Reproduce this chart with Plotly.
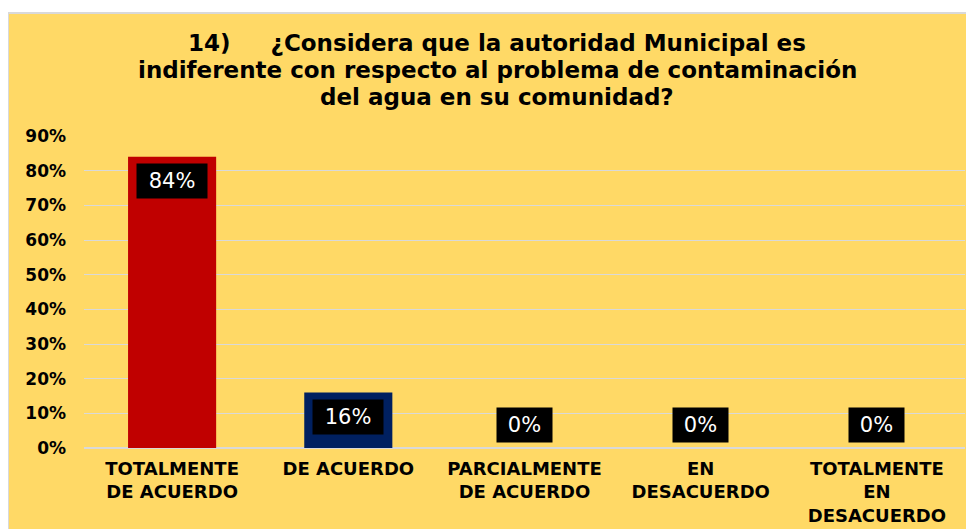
import plotly.graph_objects as go

categories = ["TOTALMENTE<br>DE ACUERDO", "DE ACUERDO", "PARCIALMENTE<br>DE ACUERDO",
              "EN<br>DESACUERDO", "TOTALMENTE<br>EN<br>DESACUERDO"]
values = [0.84, 0.16, 0.0, 0.0, 0.0]
labels = ["84%", "16%", "0%", "0%", "0%"]
bar_colors = ["#C00000", "#002060", "#002060", "#002060", "#002060"]
tick_vals = [0, 0.1, 0.2, 0.3, 0.4, 0.5, 0.6, 0.7, 0.8, 0.9]
tick_text = ["0%", "10%", "20%", "30%", "40%", "50%", "60%", "70%", "80%", "90%"]

title_lines = ["14)\u00a0\u00a0\u00a0\u00a0\u00a0¿Considera que la autoridad Municipal es",
               "indiferente con respecto al problema de contaminación",
               "del agua en su comunidad?"]

W, H = 974, 529
L, R, T, B = 76, 17, 128, 89
pw, ph = W - L - R, H - T - B


def px_x(p):
    return (p - L) / pw


def px_y(p):
    return (H - B - p) / ph


fig = go.Figure()
fig.add_trace(go.Bar(x=categories, y=values, marker=dict(color=bar_colors, line=dict(width=0)),
                     width=0.5, hoverinfo="skip"))

for c, v, t in zip(categories, values, labels):
    inside = v >= 0.05
    fig.add_annotation(x=c, y=v, text=t, showarrow=False,
                       yanchor="top" if inside else "bottom",
                       yshift=-6 if inside else 5,
                       bgcolor="#000000", width=15 * len(t) + 23, height=32,
                       font=dict(family="DejaVu Sans", size=21, color="white"))

# title, one line per annotation for tight line spacing
for i, line in enumerate(title_lines):
    fig.add_annotation(xref="paper", yref="paper", x=px_x(489), y=px_y(35 + 27 * i),
                       xanchor="center", yanchor="middle", text=line, showarrow=False,
                       font=dict(family="DejaVu Sans", size=23, color="#000000", weight="bold"))

# chart area background
fig.add_shape(type="rect", xref="paper", yref="paper", layer="below",
              x0=px_x(0), x1=px_x(W + 20), y0=px_y(H + 20), y1=px_y(5),
              fillcolor="#FFD966", line=dict(color="#D9D9D9", width=2))

fig.update_layout(
    width=W, height=H,
    margin=dict(l=L, r=R, t=T, b=B),
    paper_bgcolor="white", plot_bgcolor="rgba(0,0,0,0)",
    showlegend=False,
    xaxis=dict(showline=False, ticks="", ticklabelstandoff=8,
               tickfont=dict(family="DejaVu Sans", size=18, color="#000000", weight="bold"),
               fixedrange=True),
    yaxis=dict(range=[0, 0.9], tickvals=tick_vals, ticktext=tick_text, showgrid=True,
               gridcolor="#D9D9D9", gridwidth=1, zeroline=True, zerolinecolor="#D9D9D9",
               zerolinewidth=2, ticks="", ticklabelstandoff=17,
               tickfont=dict(family="DejaVu Sans", size=17, color="#000000", weight="bold")),
)

fig.write_html("out.html")
